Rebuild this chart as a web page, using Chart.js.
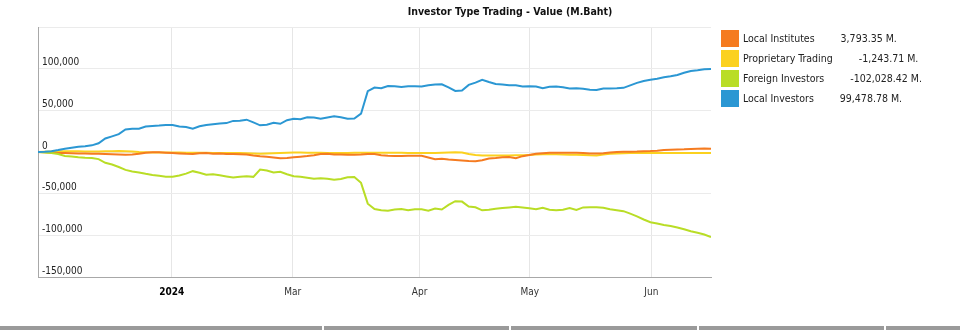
<!DOCTYPE html>
<html lang="en">

<head>
   <meta charset="UTF-8">
   <title>Investor Type Trading - Value (M.Baht)</title>
   <script src="https://cdn.jsdelivr.net/npm/chart.js@4.4.1/dist/chart.umd.min.js"></script>
   <style>
      body { margin: 0; background: #fff; font-family: "DejaVu Sans Condensed", "Liberation Sans", sans-serif; }
      .wrap { position: relative; width: 960px; height: 330px; overflow: hidden; }
      .chartBox { position: absolute; left: 0; top: 0; width: 960px; height: 330px; }
      .title { position: absolute; top: 5px; left: 380px; width: 260px; text-align: center; font-weight: bold; font-size: 10.5px; color: #111; }
      .legend { position: absolute; left: 721px; top: 30px; }
      .legend .row { height: 20px; display: flex; align-items: flex-start; font-size: 10.5px; color: #222; }
      .legend .sw { width: 18px; height: 17px; margin-right: 4px; }
      .legend .lbl { line-height: 17px; }
      .legend .val { line-height: 17px; margin-left: 26px; }
      .tabs { position: absolute; left: 0; top: 326px; width: 960px; height: 4px; background: #9a9a9a; }
      .tabs span { position: absolute; top: 0; width: 2px; height: 4px; background: #fff; }
   </style>
</head>

<body>
   <div class="wrap">
      <div class="chartBox"><canvas id="myChart"></canvas></div>
      <div class="title">Investor Type Trading - Value (M.Baht)</div>
      <div class="legend" id="legend"></div>
      <div class="tabs">
         <span style="left:322px"></span><span style="left:509px"></span><span style="left:697px"></span><span style="left:884px"></span>
      </div>
   </div>
   <script>
      // trading days run along x as 0..100, month starts fall between them
      const tickPos = [19.88, 37.86, 56.7, 73.06, 91.13];
      const tickLabels = ['2024', 'Mar', 'Apr', 'May', 'Jun'];

      const seriesNames = ['Local Institutes', 'Proprietary Trading', 'Foreign Investors', 'Local Investors'];
      const seriesColors = ['#f57b20', '#fbd11f', '#b9dd26', '#2b97d3'];
      const totals = [3793.35, -1243.71, -102028.42, 99478.78];

      const localInstitutes = [
         0, -400, -800, -1100, -1300, -1500, -1700, -1800, -2000, -2000,
         -2400, -2700, -3000, -3200, -3000, -2000, -800, -300, -300, -800,
         -1200, -1700, -2200, -2300, -1600, -1300, -2000, -1900, -2300, -2400,
         -2600, -3000, -4200, -5200, -5800, -6500, -7400, -7300, -6400, -5600,
         -4800, -3800, -2500, -2200, -2900, -3100, -3300, -3200, -3000, -2500,
         -2300, -3800, -4600, -4800, -4700, -4600, -4400, -4600, -6500, -8600,
         -8000, -9000, -9600, -10200, -10800, -11000, -10000, -7800, -7200, -6400,
         -6000, -7500, -5000, -3600, -2000, -1400, -1000, -800, -800, -800,
         -800, -1300, -1900, -1800, -1500, -700, -100, 200, 300, 500,
         1000, 1200, 1600, 2300, 2600, 3000, 3200, 3700, 4000, 4100,
         3793
      ];
      const proprietary = [
         0, 400, 700, 800, 900, 900, 800, 700, 700, 700,
         800, 900, 1200, 1000, 500, 0, -300, -500, -500, -500,
         -600, -700, -800, -900, -1000, -1000, -1100, -1200, -1200, -1200,
         -1300, -1500, -1700, -2000, -1800, -1500, -1200, -800, -500, -600,
         -800, -1000, -1000, -1100, -1200, -1200, -1200, -1000, -1000, -900,
         -800, -900, -1000, -1000, -1000, -1100, -1200, -1300, -1300, -1200,
         -1000, -700, -300, -500, -2500, -3500, -4200, -4300, -4300, -4200,
         -4100, -4000, -3900, -3500, -3000, -2700, -2600, -2800, -3000, -3300,
         -3300, -3500, -4000, -4300, -3000, -2200, -1800, -1500, -1300, -1200,
         -1200, -1200, -1200, -1200, -1200, -1200, -1200, -1200, -1200, -1200,
         -1244
      ];
      const foreign = [
         0, -500, -1200, -2500, -4700, -5500, -6300, -6800, -7100, -8500,
         -13000, -15000, -18000, -21500, -23500, -24500, -26200, -27500, -28600, -29600,
         -29800, -28300, -26000, -23000, -25000, -27400, -26600, -28000, -29400, -30700,
         -29600, -29000, -29800, -21000, -22200, -24600, -23700, -26700, -29000, -29700,
         -30800, -32000, -31500, -32200, -33400, -32500, -30400, -30000, -37000, -62000,
         -68500, -69800, -70500, -69000, -68500, -70000, -68700, -68800, -70500, -67800,
         -69000, -63500, -59000, -59500, -65500, -66300, -70000, -69300, -68000, -67300,
         -66600, -65800, -66500, -67500, -68800, -66900, -69200, -70000, -69300, -67300,
         -69500, -66500, -66300, -66300, -67000, -68700, -69800, -71000, -74000, -77200,
         -81000, -84300, -85700, -87500, -88700, -90500, -92800, -95000, -97000, -99000,
         -102028
      ];
      const localInvestors = [
         0, 300, 900, 2300, 3900, 5000, 6200, 6900, 8000, 10500,
         16200, 18800, 21500, 27000, 28000, 28000, 30500, 31200, 31700, 32500,
         32500, 30500, 30000, 28000, 30800, 32300, 33400, 34100, 34700, 37300,
         37600, 38800, 35500, 32000, 32800, 35000, 33800, 38200, 39800, 39300,
         41600, 41300, 39800, 41500, 42800, 41800, 40000, 40200, 46000, 73000,
         77300, 76500, 79200, 79000, 77900, 78800, 78800, 78500, 80000, 81000,
         81300, 77500, 73200, 73800, 80500, 83300, 86500, 84000, 81700, 81000,
         80200, 80000, 78600, 79000, 78600, 76600, 78400, 78500, 77700, 76300,
         76500, 75800, 74600, 74300, 76300, 76300, 76500, 77000, 80000, 83000,
         85300, 86800, 88000, 89700, 90800, 92500, 95000, 97300, 98000, 99300,
         99479
      ];
      const seriesData = [localInstitutes, proprietary, foreign, localInvestors];

      // legend on the right
      const legend = document.getElementById('legend');
      seriesNames.forEach((name, i) => {
         const row = document.createElement('div');
         row.className = 'row';
         const sw = document.createElement('div');
         sw.className = 'sw';
         sw.style.background = seriesColors[i];
         const lbl = document.createElement('span');
         lbl.className = 'lbl';
         lbl.textContent = name;
         const val = document.createElement('span');
         val.className = 'val';
         val.textContent = totals[i].toLocaleString('en-US', { minimumFractionDigits: 2, maximumFractionDigits: 2 }) + ' M.';
         row.appendChild(sw);
         row.appendChild(lbl);
         row.appendChild(val);
         legend.appendChild(row);
      });

      // blue and green first so orange/yellow sit on top near zero
      const drawOrder = [3, 2, 0, 1];
      const datasets = drawOrder.map(i => ({
         label: seriesNames[i],
         data: seriesData[i].map((v, idx) => ({ x: idx, y: v })),
         borderColor: seriesColors[i],
         borderWidth: 2,
         pointRadius: 0,
         tension: 0,
         fill: false
      }));

      const tickFont = { family: '"DejaVu Sans Condensed", "Liberation Sans", sans-serif', size: 10 };

      const config = {
         type: 'line',
         data: { datasets: datasets },
         options: {
            responsive: true,
            maintainAspectRatio: false,
            animation: false,
            layout: { padding: { left: 38, right: 249, top: 27, bottom: 23 } },
            plugins: {
               legend: { display: false },
               title: { display: false },
               tooltip: { enabled: false }
            },
            scales: {
               x: {
                  type: 'linear',
                  min: 0,
                  max: 100,
                  afterBuildTicks: scale => { scale.ticks = tickPos.map(v => ({ value: v })); },
                  afterFit: scale => { scale.height = 30; },
                  ticks: {
                     padding: 9,
                     autoSkip: false,
                     maxRotation: 0,
                     color: ctx => ctx.index === 0 ? '#000' : '#333',
                     font: ctx => Object.assign({}, tickFont, { weight: ctx.index === 0 ? 'bold' : 'normal' }),
                     callback: (value, index) => tickLabels[index]
                  },
                  grid: { color: '#e6e6e6', drawTicks: false },
                  border: { color: '#a8a8a8', width: 1 }
               },
               y: {
                  min: -150000,
                  max: 150000,
                  afterFit: scale => { scale.width = 0; },
                  ticks: {
                     stepSize: 50000,
                     mirror: true,
                     padding: 4,
                     labelOffset: -6,
                     color: '#222',
                     font: tickFont,
                     callback: value => value === 150000 ? '' : value.toLocaleString('en-US')
                  },
                  grid: { color: '#ebebeb', drawTicks: false },
                  border: { color: '#a8a8a8', width: 1 }
               }
            }
         }
      };

      new Chart(document.getElementById('myChart').getContext('2d'), config);
   </script>
</body>

</html>
